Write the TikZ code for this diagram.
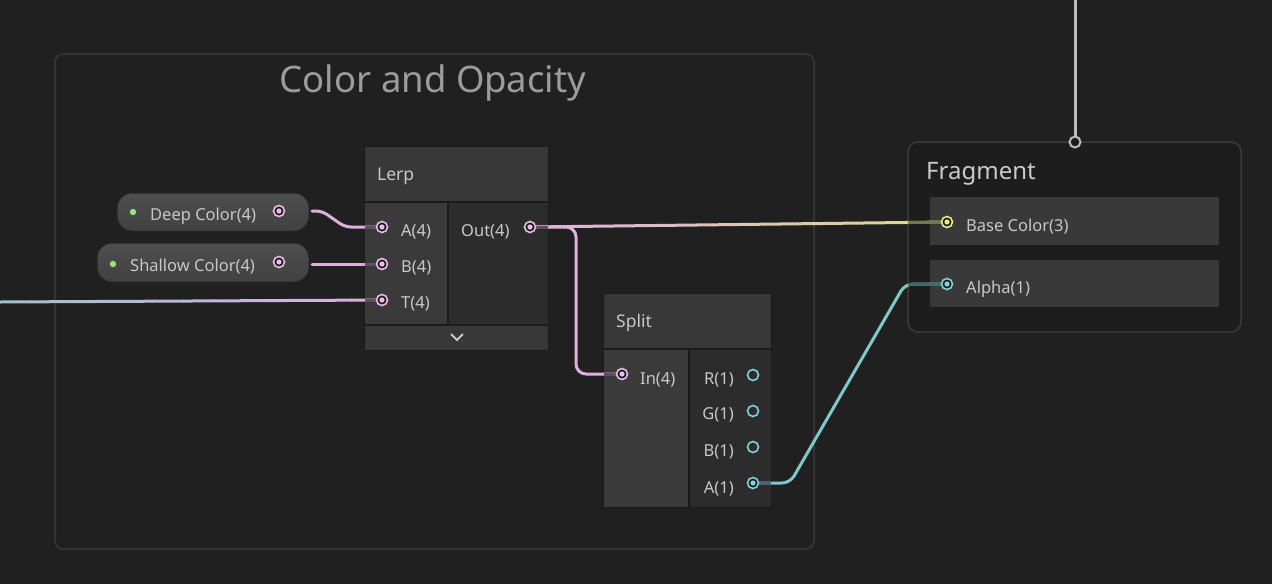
\documentclass[tikz,border=0pt]{standalone}
\usepackage{fontspec}
\setmainfont{Noto Sans}
\usetikzlibrary{calc}

\definecolor{bg}{HTML}{202020}
\definecolor{grpedge}{HTML}{333333}
\definecolor{grptitle}{HTML}{9C9C9C}
\definecolor{nodeedge}{HTML}{1B1B1B}
\definecolor{hdr}{HTML}{383838}
\definecolor{incol}{HTML}{3A3A3A}
\definecolor{outcol}{HTML}{2C2C2C}
\definecolor{txt}{HTML}{C8C8C8}
\definecolor{pilltop}{HTML}{4E4E4E}
\definecolor{pillbot}{HTML}{414141}
\definecolor{pilledge}{HTML}{262626}
\definecolor{pinkc}{HTML}{E8BCE8}
\definecolor{pinkw}{HTML}{DEB0DE}
\definecolor{pinkstub}{HTML}{5E4F5E}
\definecolor{cyanc}{HTML}{7FD4DC}
\definecolor{cyanw}{HTML}{80C8CC}
\definecolor{cyanstub}{HTML}{44696B}
\definecolor{yelc}{HTML}{EDED8A}
\definecolor{yelw}{HTML}{DCDC8C}
\definecolor{yelstub}{HTML}{77774E}
\definecolor{bluew}{HTML}{9EC2D2}
\definecolor{dotgreen}{HTML}{9AE27A}
\definecolor{fragfill}{HTML}{1D1D1D}
\definecolor{fragedge}{HTML}{3A3A3A}
\definecolor{slot}{HTML}{393939}
\definecolor{topw}{HTML}{BCBCBC}

\tikzset{
  wire/.style={line width=3pt, line cap=round},
  stub/.style={line width=3pt},
  lbl/.style={text=txt, font=\fontsize{16.5}{19}\selectfont, inner sep=0pt},
  head/.style={text=txt, font=\fontsize{17.5}{20}\selectfont, inner sep=0pt, anchor=west},
  pill/.style={top color=pilltop, bottom color=pillbot, draw=pilledge, line width=1pt, rounded corners=15pt},
}

\begin{document}
\begin{tikzpicture}[x=1pt, y=-1pt]

\useasboundingbox (0,0) rectangle (1272,584);
\fill[bg] (0,0) rectangle (1272,584);

% group
\draw[grpedge, line width=2pt, rounded corners=8pt] (55,54) rectangle (814,549);
\node[text=grptitle, font=\fontsize{36.5}{42}\selectfont, inner sep=0pt] (title) at (433,83) {Color and Opacity};

% ports
\coordinate (pDeep) at (279,211);
\coordinate (pShallow) at (279,262);
\coordinate (pA) at (382,227);
\coordinate (pB) at (382,264);
\coordinate (pT) at (382,300);
\coordinate (pOut) at (530,227);
\coordinate (pIn) at (622,374);
\coordinate (pR) at (753,375);
\coordinate (pG) at (753,411);
\coordinate (pBo) at (753,447);
\coordinate (pAo) at (753,483);
\coordinate (pBase) at (947,222);
\coordinate (pAlpha) at (947,284);
\coordinate (pTop) at (1075,142);
\coordinate (tL) at (0,302);
\coordinate (topL) at (1075,0);

% properties
\path[pill] (117,193) rectangle (309,231);
\path[pill] (97,243) rectangle (309,282);
\fill[dotgreen] (133,212) circle (3.2);
\fill[dotgreen] (113,264) circle (3.2);
\node[lbl, anchor=west] (deep) at (150,216) {Deep Color(4)};
\node[lbl, anchor=west] (shallow) at (130,267) {Shallow Color(4)};

% Lerp
\fill[nodeedge] (364,146) rectangle (549,351);
\fill[hdr] (365,147) rectangle (548,201);
\fill[incol] (365,203) rectangle (447,324);
\fill[outcol] (449,203) rectangle (548,324);
\fill[hdr] (365,326) rectangle (548,350);
\draw[txt, line width=2pt] (451,334) -- (457,340) -- (463,334);
\node[head] (lerp) at (377,176) {Lerp};
\node[lbl, anchor=west] (la) at (401,232) {A(4)};
\node[lbl, anchor=west] (lb) at (401,268) {B(4)};
\node[lbl, anchor=west] (lt) at (401,304) {T(4)};
\node[lbl, anchor=west] (lout) at (461,232) {Out(4)};

% Split
\fill[nodeedge] (603,293) rectangle (772,508);
\fill[hdr] (604,294) rectangle (771,348);
\fill[incol] (604,350) rectangle (688,507);
\fill[outcol] (690,350) rectangle (771,507);
\node[head] (split) at (616,323) {Split};
\node[lbl, anchor=west] (lin) at (640,380) {In(4)};
\node[lbl, anchor=east] (lr) at (734,380) {R(1)};
\node[lbl, anchor=east] (lg) at (734,415) {G(1)};
\node[lbl, anchor=east] (lbo) at (734,452) {B(1)};
\node[lbl, anchor=east] (lao) at (734,489) {A(1)};

% Fragment
\draw[fill=fragfill, draw=fragedge, line width=1.5pt, rounded corners=10pt] (908,142) rectangle (1241,332);
\fill[slot] (930,197) rectangle (1219,245);
\fill[slot] (930,260) rectangle (1219,307);
\node[text=txt!95!white, font=\fontsize{24}{29}\selectfont, inner sep=0pt, anchor=west] (frag) at (926,174) {Fragment};
\node[lbl, anchor=west] (lbase) at (966,227) {Base Color(3)};
\node[lbl, anchor=west] (lalpha) at (966,289) {Alpha(1)};

% wires
\draw[wire, pinkw, rounded corners=6pt] (pDeep) ++(33,0) -- ++(10,0) -- (345,227) -- (pA);
\draw[wire, pinkw] (pShallow) ++(33,2) -- (pB);
\draw[wire, pinkw, rounded corners=10pt] (pOut) -- (576,227) -- (576,374) -- (pIn);
\draw[wire, cyanw, rounded corners=8pt] (pAo) -- (790,483) -- (905,284) -- (pAlpha);
\draw[wire, topw] (topL) -- ($(pTop)+(0,-5)$);

\foreach \i [evaluate=\i as \m using int(100-4*\i),
             evaluate=\i as \a using \i/25,
             evaluate=\i as \b using (\i+1)/25] in {0,...,24}
    \draw[wire, draw=pinkw!\m!yelw] ($(pOut)!\a!(pBase)$) -- ($(pOut)!\b!(pBase)$);

\foreach \i [evaluate=\i as \m using int(100-4*\i),
             evaluate=\i as \a using \i/25,
             evaluate=\i as \b using (\i+1)/25] in {0,...,24}
    \draw[wire, draw=bluew!\m!pinkw] ($(tL)!\a!(pT)$) -- ($(tL)!\b!(pT)$);

% stubs
\draw[stub, pinkstub] (365,227) -- (pA);
\draw[stub, pinkstub] (365,264) -- (pB);
\draw[stub, pinkstub] (365,300) -- (pT);
\draw[stub, pinkstub] (pOut) -- (548,227);
\draw[stub, pinkstub] (604,374) -- (pIn);
\draw[stub, cyanstub] (pAo) -- (771,483);
\draw[stub, yelstub] (908,222) -- (pBase);
\draw[stub, cyanstub] (908,284) -- (pAlpha);

% port circles
\foreach \p in {pDeep,pShallow,pA,pB,pT,pOut,pIn} {
    \draw[pinkc, line width=1.6pt, fill=nodeedge] (\p) circle (5.5);
    \fill[pinkc] (\p) circle (2.6);
}
\foreach \p in {pR,pG,pBo} \draw[cyanc, line width=1.6pt, fill=outcol] (\p) circle (5.5);
\foreach \p in {pAo,pAlpha} {
    \draw[cyanc, line width=1.6pt, fill=nodeedge] (\p) circle (5.5);
    \fill[cyanc] (\p) circle (2.6);
}
\draw[yelc, line width=1.6pt, fill=nodeedge] (pBase) circle (5.5);
\fill[yelc] (pBase) circle (2.6);
\draw[topw, line width=2pt, fill=fragfill] (pTop) circle (5.5);

\end{tikzpicture}
\end{document}
